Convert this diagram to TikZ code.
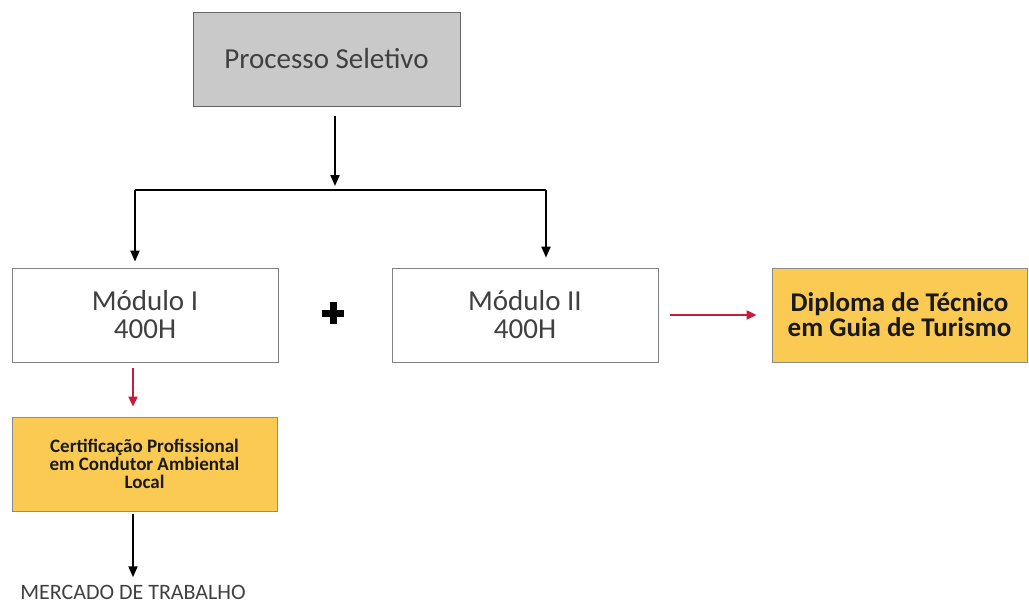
\documentclass[tikz,border=0pt]{standalone}
\usepackage{fontspec}
\setmainfont{Carlito}
\usepackage{tikz}
\usetikzlibrary{arrows.meta}
\definecolor{boxgray}{RGB}{201,201,201}
\definecolor{boxgold}{RGB}{250,202,82}
\definecolor{arrred}{RGB}{200,28,58}
\definecolor{txtgray}{RGB}{64,64,64}
\tikzset{
  font={\fontsize{29pt}{28pt}\selectfont},
  modbox/.style={draw=black!50, line width=0.8pt, minimum width=266pt, minimum height=94pt,
    align=center, text=txtgray, inner sep=0pt},
  goldbox/.style={modbox, fill=boxgold, draw=black!45, text=black!90, font={\bfseries}},
  blkarr/.style={line width=2pt, -{Triangle[length=11pt,width=9pt]}},
  redarr/.style={line width=2pt, arrred, -{Triangle[length=10pt,width=9pt]}}}

\begin{document}
\begin{tikzpicture}[x=1pt,y=-1pt]
\useasboundingbox (0,0) rectangle (1029,605);
\node [modbox, fill=boxgray, minimum width=267pt, draw=black!60] (proc) at (326.5,59) {Processo Seletivo};
\node [modbox] (mod1) at (145,315) {Módulo I\\400H};
\node [modbox] (mod2) at (525,315) {Módulo II\\400H};
\node [inner sep=0pt, minimum size=21pt] (plus) at (333,313) {};
\node [goldbox, minimum width=255pt, font={\fontsize{27pt}{25pt}\selectfont\bfseries}] (dipl) at (899.5,315)
  {Diploma de Técnico\\em Guia de Turismo};
\node [goldbox, minimum width=265pt, font={\fontsize{19pt}{18pt}\selectfont\bfseries}] (cert) at (144.5,464)
  {Certificação Profissional\\em Condutor Ambiental\\Local};
\node [text=txtgray, font={\fontsize{22pt}{22pt}\selectfont}] (mercado) at (133,592) {MERCADO DE TRABALHO};
% the plus sign
\draw [line width=7pt] (plus.north) -- (plus.south) (plus.west) -- (plus.east);
% split under the first box
\coordinate (bar) at (335,190);
\coordinate (barL) at (135,190);
\coordinate (barR) at (546,190);
\draw [line width=2.2pt] (barL) -- (barR);
\draw [blkarr, shorten <=10pt, shorten >=4pt] (proc.south -| bar) -- (bar);
\draw [blkarr, shorten >=6pt] (barL) -- (barL |- mod1.north);
\draw [blkarr, shorten >=10pt] (barR) -- (barR |- mod2.north);
% red arrows
\draw [redarr, shorten <=12pt, shorten >=15pt] (mod2.east) -- (dipl.west);
\draw [redarr, shorten <=6pt, shorten >=10pt] (mod1.south -| mercado) -- (cert.north -| mercado);
\draw [blkarr, shorten <=3pt, shorten >=4pt] (cert.south -| mercado) -- (mercado.north);
\end{tikzpicture}
\end{document}
